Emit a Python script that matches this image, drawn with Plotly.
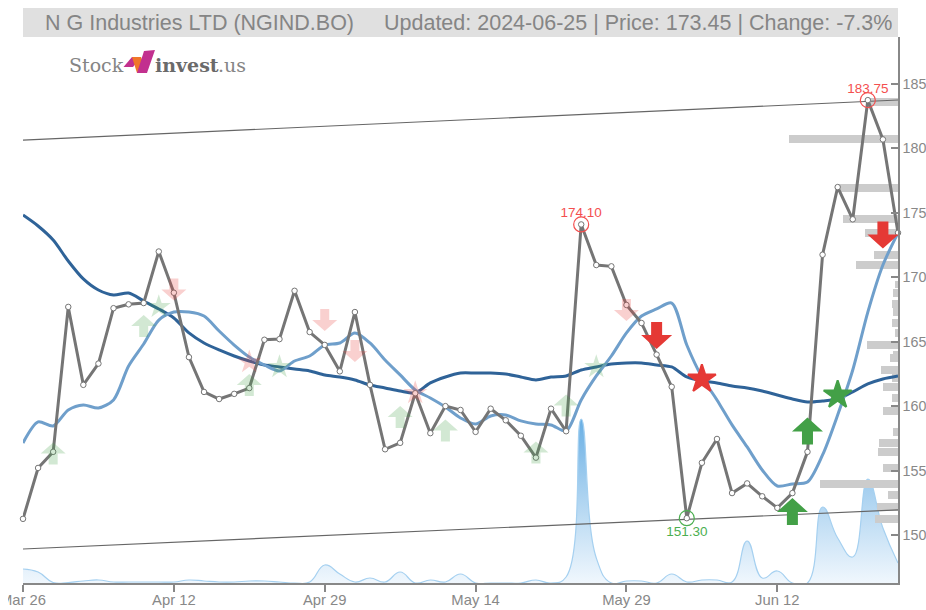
import plotly.graph_objects as go

idx = list(range(59))
tick_pos = [0, 10, 20, 30, 40, 50]
tick_txt = ["Mar 26", "Apr 12", "Apr 29", "May 14", "May 29", "Jun 12"]

price = [151.25,155.2,156.45,167.7,161.65,163.3,167.6,167.9,168.0,172.0,168.8,163.8,161.1,160.55,160.95,161.4,
         165.15,165.2,168.95,165.75,164.75,162.7,167.3,161.65,156.65,157.15,161.0,157.9,160.0,159.7,158.0,159.8,
         158.9,157.7,156.0,159.8,158.05,174.1,170.95,170.85,167.85,166.45,164.0,161.5,151.3,155.6,157.45,153.25,
         154.0,153.0,152.1,153.25,156.45,171.75,177.0,174.5,183.75,180.7,173.45]
ma_long = [174.83,173.98,172.89,171.26,169.87,169.01,168.62,168.78,168.16,167.54,166.84,165.68,164.9,164.36,163.89,
           163.5,163.19,163.04,162.88,162.73,162.42,162.26,162.03,161.64,161.41,161.17,161.02,161.8,162.26,162.57,
           162.57,162.57,162.49,162.26,162.03,162.26,162.34,162.8,163.04,163.27,163.35,163.35,163.19,163.04,162.26,
           161.95,161.8,161.56,161.41,161.17,160.86,160.55,160.32,160.4,160.55,161.1,161.72,162.11,162.34]
ma_short = [157.14,158.77,158.46,159.7,160.09,159.85,160.48,163.11,164.82,166.68,167.3,167.3,166.99,165.83,164.74,
            163.81,163.19,162.73,163.5,163.89,164.74,164.9,165.68,164.9,163.58,162.42,161.25,160.63,159.93,159.08,
            158.61,159.23,159.31,158.85,158.61,158.54,158.07,160.48,162.34,163.89,165.68,166.99,167.54,168.0,164.74,
            162.26,160.48,158.54,156.83,155.04,153.8,153.96,154.11,156.21,159.31,162.8,167.3,170.95,173.45]
volume = [14,11,0.5,0.5,2,3,1,1,1,1,1,3,2,1,1,2,2,1,0,1,18,9,1,5,1,11,0,3,1,9,0,0,0,0,3,0,6,164,25,0,2,2,0,
          9,1,3,3,1,42,5,12,0,0,76,45,26,104,55,20]

trend_x = [0, 58]
trend_up = [180.65, 183.76]
trend_low = [148.91, 151.94]

prof_price = [183.6,180.73,176.93,174.52,173.44,171.73,170.95,169.45,168.78,167.93,167.3,166.45,165.68,164.74,163.97,163.73,
              162.8,162.18,161.48,160.63,159.62,158.0,157.14,156.44,155.2,153.96,153.1,152.17,151.24]
prof_len = [1.99,7.23,3.98,3.65,2.19,1.59,2.78,0.2,0.33,0.4,0.33,0.4,0.2,2.05,0.3,0.53,
            1.13,0.4,0.99,0.4,0.99,0.33,1.26,1.33,0.99,5.17,0.66,1.39,1.52]

pale_up_x = [2, 8, 15, 25, 28, 34, 36]
pale_up_y = [156.32, 166.22, 161.64, 159.16, 158.11, 156.4, 160.05]
pale_dn_x = [10, 20, 22, 40]
pale_dn_y = [169.05, 166.68, 164.28, 167.46]
strong_up_x = [52, 51]
strong_up_y = [158.07, 151.82]
strong_dn_x = [42, 57]
strong_dn_y = [165.48, 173.28]
pale_gstar_x = [9, 17, 38]
pale_gstar_y = [167.7, 163.04, 163.04]
pale_rstar_x = [15, 26]
pale_rstar_y = [163.42, 161.02]
red_star = ([45], [162.1])
green_star = ([54], [160.86])
high_x = [37, 56]
high_y = [174.10, 183.75]
low_x = [44]
low_y = [151.30]

GREY = "#888888"
RED = "#e53935"
GREEN = "#43a047"
PALE_RED = "rgba(229,57,53,0.24)"
PALE_GREEN = "rgba(67,160,71,0.24)"

L, T, PW, PH = 23, 37, 875, 546  # plot box in window pixels


def arrow(x, y, up, w, h, head, stem, color):
    s = 1 if up else -1
    pts = [(0, h/2), (w/2, h/2-head), (stem/2, h/2-head), (stem/2, -h/2), (-stem/2, -h/2),
           (-stem/2, h/2-head), (-w/2, h/2-head)]
    path = "M" + "L".join(f"{a},{s*b}" for a, b in pts) + "Z"
    return dict(type="path", xref="x", yref="y2", xsizemode="pixel", ysizemode="pixel",
                xanchor=x, yanchor=y, path=path, fillcolor=color, line_width=0, layer="above")


def logo(points, color):
    def px(p):
        return f"{(p[0]-L)/PW:.5f},{(T+PH-p[1])/PH:.5f}"
    return dict(type="path", xref="paper", yref="paper", fillcolor=color, line_width=0,
                path="M" + "L".join(px(p) for p in points) + "Z")


fig = go.Figure()

fig.add_trace(go.Scatter(x=idx, y=volume, yaxis="y", mode="lines", fill="tozeroy", cliponaxis=False,
                         line=dict(color="#a5d0f0", width=1.2, shape="spline", smoothing=1.3),
                         fillgradient=dict(type="vertical",
                                           colorscale=[[0, "rgba(240,247,253,0.9)"], [1, "rgba(105,175,228,1)"]]),
                         hoverinfo="skip"))
fig.add_trace(go.Bar(x=[-v for v in prof_len], y=prof_price, base=58, orientation="h", width=0.58, yaxis="y2",
                     marker=dict(color="#cccccc", line_width=0), hoverinfo="skip"))
for yy in (trend_up, trend_low):
    fig.add_trace(go.Scatter(x=trend_x, y=yy, yaxis="y2", mode="lines", line=dict(color="#666666", width=1.2)))
fig.add_trace(go.Scatter(x=idx, y=ma_long, yaxis="y2", mode="lines",
                         line=dict(color="#2f6398", width=3, shape="spline", smoothing=0.8)))
fig.add_trace(go.Scatter(x=idx, y=ma_short, yaxis="y2", mode="lines",
                         line=dict(color="#6f9fcb", width=3, shape="spline", smoothing=0.8)))
fig.add_trace(go.Scatter(x=idx, y=price, yaxis="y2", mode="lines+markers", cliponaxis=False,
                         line=dict(color="#757575", width=3),
                         marker=dict(symbol="circle", size=5.5, color="white", line=dict(color="#757575", width=1))))
fig.add_trace(go.Scatter(x=pale_gstar_x, y=pale_gstar_y, yaxis="y2", mode="markers",
                         marker=dict(symbol="star", size=18, color=PALE_GREEN, line_width=0)))
fig.add_trace(go.Scatter(x=pale_rstar_x, y=pale_rstar_y, yaxis="y2", mode="markers",
                         marker=dict(symbol="star", size=18, color=PALE_RED, line_width=0)))
fig.add_trace(go.Scatter(x=red_star[0], y=red_star[1], yaxis="y2", mode="markers",
                         marker=dict(symbol="star", size=21, color=RED, line=dict(width=2, color=RED))))
fig.add_trace(go.Scatter(x=green_star[0], y=green_star[1], yaxis="y2", mode="markers",
                         marker=dict(symbol="star", size=21, color=GREEN, line=dict(width=2, color=GREEN))))
fig.add_trace(go.Scatter(x=high_x, y=high_y, yaxis="y2", mode="markers",
                         marker=dict(symbol="circle-open", size=15, color="#f44f4f", line=dict(width=1.2, color="#f44f4f"))))
fig.add_trace(go.Scatter(x=high_x, y=high_y, yaxis="y2", mode="markers+text", text=[f"{v:.2f}" for v in high_y],
                         textposition="top center", textfont=dict(color="#f44f4f", size=13.5, family="Liberation Sans"),
                         marker=dict(size=5, opacity=0)))
fig.add_trace(go.Scatter(x=low_x, y=low_y, yaxis="y2", mode="markers",
                         marker=dict(symbol="circle-open", size=15, color="#4caf50", line=dict(width=1.2, color="#4caf50"))))
fig.add_trace(go.Scatter(x=low_x, y=low_y, yaxis="y2", mode="markers+text", text=[f"{v:.2f}" for v in low_y],
                         textposition="bottom center", textfont=dict(color="#4caf50", size=13.5, family="Liberation Sans"),
                         marker=dict(size=11, opacity=0)))

shapes = [dict(type="rect", xref="paper", yref="paper", x0=0, x1=1, y0=1, y1=1+29/PH, fillcolor="#e0e0e0",
               line_width=0, layer="below")]
for x, y in zip(pale_up_x, pale_up_y):
    shapes.append(arrow(x, y, True, 25, 22, 11, 9, PALE_GREEN))
for x, y in zip(pale_dn_x, pale_dn_y):
    shapes.append(arrow(x, y, False, 25, 22, 11, 9, PALE_RED))
for x, y in zip(strong_up_x, strong_up_y):
    shapes.append(arrow(x, y, True, 31, 27, 14, 11, GREEN))
for x, y in zip(strong_dn_x, strong_dn_y):
    shapes.append(arrow(x, y, False, 31, 27, 14, 11, RED))
shapes.append(logo([(123.5, 67), (132, 57), (141, 57), (133, 67)], "#c2308f"))
shapes.append(logo([(132, 57), (141, 57), (147, 73), (137, 73)], "#f0762a"))
shapes.append(logo([(137, 73), (147, 73), (155, 50), (144, 51)], "#c2308f"))


def note(px, py, text, size, color, family="Liberation Sans", anchor="left"):
    return dict(xref="paper", yref="paper", x=(px-L)/PW, y=(T+PH-py)/PH, xanchor=anchor, yanchor="middle",
                text=text, showarrow=False, font=dict(size=size, color=color, family=family))


annotations = [
    note(43, 22.5, "N G Industries LTD (NGIND.BO)", 21.5, "#858585"),
    note(382, 22.5, "Updated: 2024-06-25 | Price: 173.45 | Change: -7.3%", 21.5, "#858585"),
    note(66.5, 65, "Stock", 19, "#858585", "DejaVu Serif"),
    note(153, 65, "<b>invest</b>", 19, "#6a6a6a", "DejaVu Serif"),
    note(215.5, 65, ".us", 19, "#858585", "DejaVu Serif"),
]

fig.update_layout(
    width=918, height=602, autosize=False,
    margin=dict(l=15, r=28, t=29, b=27, pad=0),
    paper_bgcolor="white", plot_bgcolor="white", showlegend=False, bargap=0,
    shapes=shapes, annotations=annotations,
    font=dict(family="Liberation Sans", color=GREY, size=14.5),
    xaxis=dict(range=[0, 58], tickmode="array", tickvals=tick_pos, ticktext=tick_txt, ticks="outside", ticklen=7,
               automargin=False, ticklabeloverflow="allow", ticklabelstandoff=-5, tickcolor=GREY, tickwidth=1.5,
               showgrid=False, zeroline=False, showline=True, linecolor=GREY, linewidth=2,
               tickfont=dict(size=14.8, color=GREY)),
    yaxis=dict(range=[0, 546], visible=False, showgrid=False, zeroline=False, automargin=False),
    yaxis2=dict(overlaying="y", side="right", range=[146.27, 188.65], tickvals=[150, 155, 160, 165, 170, 175, 180, 185],
                ticktext=["150", "155", "160", "165", "170", "175", "180", "185"],
                automargin=False, ticklabeloverflow="allow", ticks="inside", ticklen=7, tickcolor=GREY, tickwidth=1.5,
                showgrid=False, zeroline=False, showline=True, linecolor=GREY, linewidth=1.5,
                tickfont=dict(size=14.3, color=GREY), anchor="x"),
)

fig.write_html("out.html", post_script="document.documentElement.style.overflow='hidden';document.body.style.margin='8px 0 0 8px';")
